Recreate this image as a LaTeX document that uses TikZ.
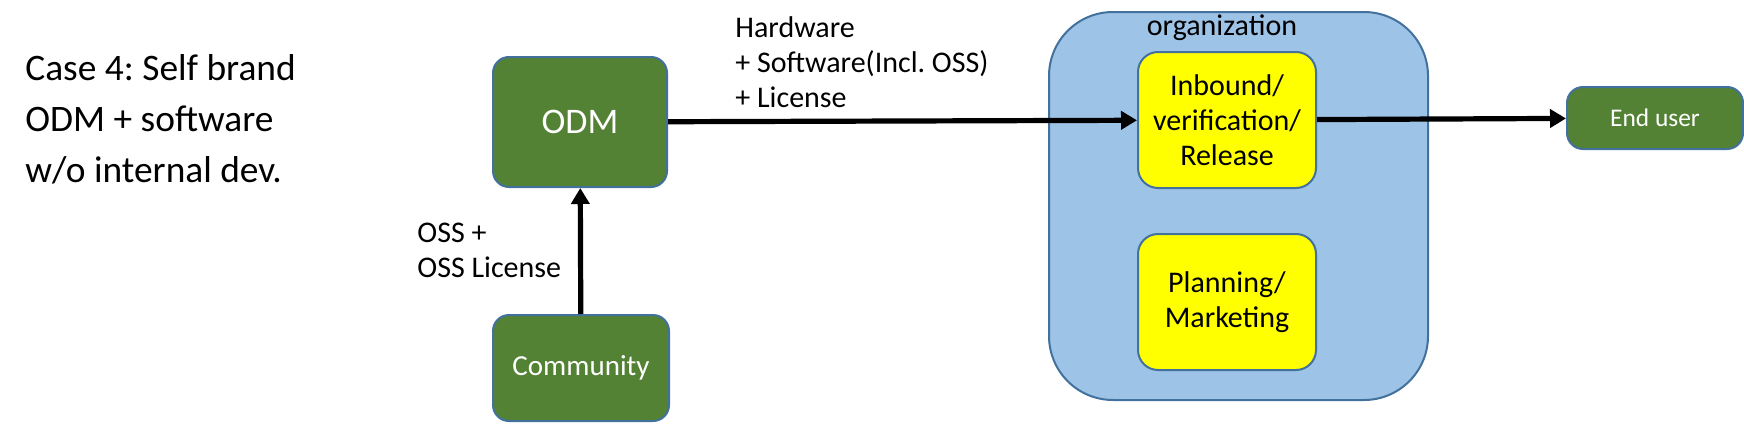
\documentclass[tikz,border=0pt]{standalone}
\usepackage{fontspec}
\setmainfont{Carlito}
\usetikzlibrary{arrows.meta}
\frenchspacing

\definecolor{boxgreen}{HTML}{548235}
\definecolor{boxedge}{HTML}{41719C}
\definecolor{orgblue}{HTML}{9DC3E6}
\definecolor{stepyellow}{HTML}{FFFF00}

\tikzset{
  greenbox/.style={draw=boxedge, line width=1pt, fill=boxgreen, text=white,
    rounded corners=8pt, inner sep=0pt, align=center},
  yellowbox/.style={draw=boxedge, line width=1pt, fill=stepyellow,
    rounded corners=10pt, minimum width=89pt, minimum height=68pt,
    inner sep=0pt, align=center, font=\fontsize{15}{17.5}\selectfont},
  flow/.style={line width=2.6pt, -{Triangle[length=8pt,width=9pt]}},
}

\begin{document}
\begin{tikzpicture}[x=0.5pt,y=-0.5pt]
   \useasboundingbox (0,0) rectangle (1744,423);

   \node[anchor=base west, align=left, inner sep=0pt,
         font=\fontsize{18.7}{22.5}\selectfont] (title) at (25,182)
        {Case 4: Self brand\\[3pt]ODM + software\\[3pt]w/o internal dev.};

   \node[greenbox, minimum width=87pt, minimum height=65pt,
         font=\fontsize{18}{22}\selectfont] (odm) at (580,122) {ODM};
   \node[greenbox, minimum width=88pt, minimum height=53pt,
         font=\fontsize{14.5}{17}\selectfont] (comm) at (581,368) {Community};

   \node[draw=boxedge, line width=1pt, fill=orgblue, rounded corners=32pt,
         minimum width=189.5pt, minimum height=194pt] (org) at (1238.5,206) {};
   \node[anchor=base, inner sep=0pt, font=\fontsize{15}{17.5}\selectfont]
        (orgname) at (1222,35) {organization};

   \node[yellowbox] (ib) at (1227,120) {Inbound/\\verification/\\Release};
   \node[yellowbox] (plan) at (1227,302) {Planning/\\Marketing};

   \node[greenbox, minimum width=88pt, minimum height=31pt,
         font=\fontsize{12.7}{16}\selectfont] (eu) at (1655,118) {End user};

   \node[anchor=base west, align=left, inner sep=0pt,
         font=\fontsize{15}{17.5}\selectfont] (hwlabel) at (735,107)
        {Hardware\\+ Software(Incl. OSS)\\+ License};
   \node[anchor=base west, align=left, inner sep=0pt,
         font=\fontsize{15}{17.5}\selectfont] (osslabel) at (417,277)
        {OSS +\\OSS License};

   \draw[flow] (comm) -- (odm);
   \draw[flow] (odm) -- (ib);
   \draw[flow] (ib) -- (eu);
\end{tikzpicture}
\end{document}
